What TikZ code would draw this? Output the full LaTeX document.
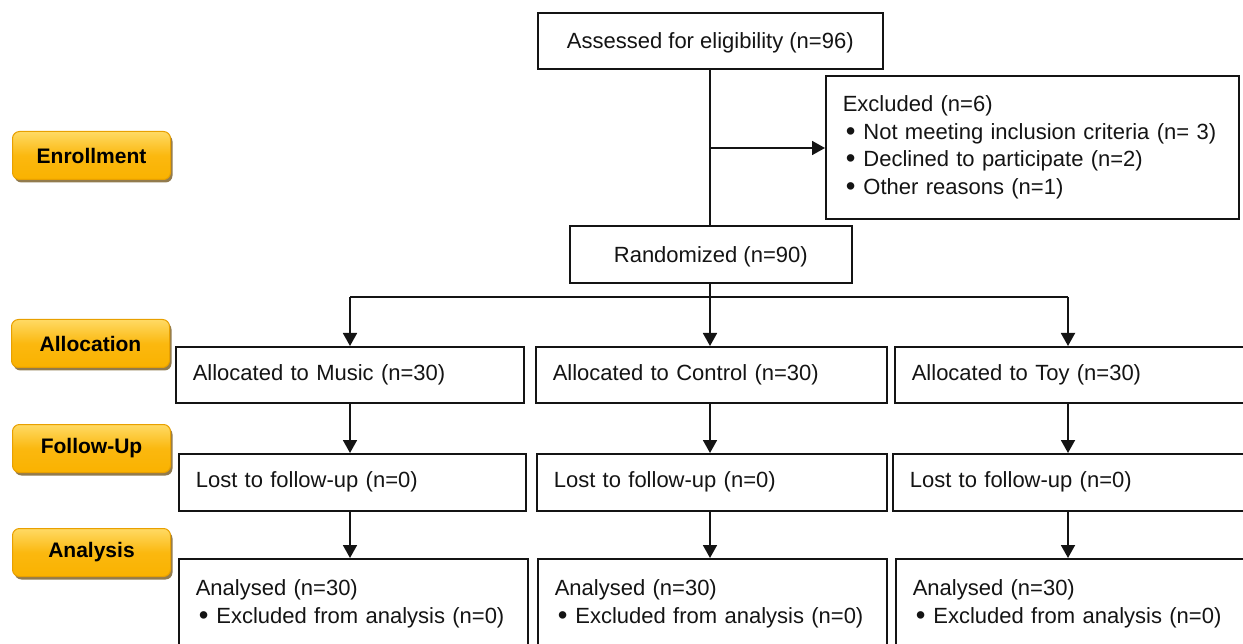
\documentclass[tikz,border=0pt]{standalone}
\usepackage{fontspec}
\setmainfont{Liberation Sans}
\usetikzlibrary{arrows.meta,shadows,calc}
\definecolor{goldtop}{RGB}{255,218,100}
\definecolor{goldbot}{RGB}{250,178,0}
\definecolor{goldline}{RGB}{232,160,0}
\definecolor{shadowc}{RGB}{110,80,20}
\definecolor{ink}{RGB}{20,20,20}
\newcommand{\bul}{\hspace*{3pt}\raisebox{-1.2pt}{\scalebox{1.25}{•}}\hspace{8pt}}
\begin{document}
\begin{tikzpicture}[x=1pt,y=-1pt,
  phase/.style={rectangle, rounded corners=7pt, draw=goldline, line width=1pt,
    top color=goldtop, bottom color=goldbot, middle color=goldbot!85!goldtop,
    minimum width=158pt, minimum height=48pt, anchor=north west,
    font=\fontsize{21}{25}\selectfont\bfseries, text=black,
    drop shadow={shadow xshift=2pt, shadow yshift=-3pt, fill=shadowc, opacity=0.75}},
  box/.style={rectangle, draw=ink, line width=1.6pt, anchor=north west,
    font=\fontsize{22}{27.5}\selectfont, text=ink, inner xsep=17pt, inner ysep=0pt},
  cbox/.style={box, align=center, text height=18pt, text depth=2pt},
  lbox/.style={box, align=left, text width=#1-34pt, minimum width=#1},
  conn/.style={draw=ink, line width=1.8pt},
  arr/.style={conn, -{Triangle[length=13pt,width=14pt]}}
]
\clip (0,0) rectangle (1243,644);
\fill[white] (0,0) rectangle (1243,644);

% phase labels
\node[phase] (enr) at (12,131) {Enrollment};
\node[phase] (alo) at (11,319) {Allocation};
\node[phase] (fol) at (12,424) {Follow-Up};
\node[phase] (ana) at (12,528) {Analysis};

% top boxes
\node[cbox, minimum width=345pt, minimum height=56pt] (assess) at (537,12) {Assessed for eligibility (n=96)};
\node[lbox=413pt, minimum height=143pt] (excl) at (825,75) {Excluded (n=6)\\
  \bul Not meeting inclusion criteria (n= 3)\\
  \bul Declined to participate (n=2)\\
  \bul Other reasons (n=1)};
\node[cbox, minimum width=282pt, minimum height=57pt] (rand) at (569,225) {Randomized (n=90)};

% allocation
\node[lbox=348pt, minimum height=56pt] (am) at (175,346) {Allocated to Music (n=30)};
\node[lbox=351pt, minimum height=56pt] (ac) at (535,346) {Allocated to Control (n=30)};
\node[lbox=360pt, minimum height=56pt] (at) at (894,346) {Allocated to Toy (n=30)};

% follow-up
\node[lbox=347pt, minimum height=57pt] (fm) at (178,453) {Lost to follow-up (n=0)};
\node[lbox=350pt, minimum height=57pt] (fc) at (536,453) {Lost to follow-up (n=0)};
\node[lbox=360pt, minimum height=57pt] (ft) at (892,453) {Lost to follow-up (n=0)};

% analysis
\node[lbox=349pt, minimum height=90pt] (nm) at (178,558) {Analysed (n=30)\\ \bul Excluded from analysis (n=0)};
\node[lbox=349pt, minimum height=90pt] (nc) at (537,558) {Analysed (n=30)\\ \bul Excluded from analysis (n=0)};
\node[lbox=360pt, minimum height=90pt] (nt) at (895,558) {Analysed (n=30)\\ \bul Excluded from analysis (n=0)};

% connectors
\coordinate (br) at (710,148);
\draw[conn] (br |- assess.south) -- (br |- rand.north);
\draw[arr] (br) -- (br -| excl.west);

\coordinate (sp) at (710,297);
\coordinate (d1) at (350,297);
\coordinate (d2) at (710,297);
\coordinate (d3) at (1068,297);
\draw[conn] (sp |- rand.south) -- (sp);
\draw[conn] (d1) -- (d3);
\draw[arr] (d1) -- (d1 |- am.north);
\draw[arr] (d2) -- (d2 |- ac.north);
\draw[arr] (d3) -- (d3 |- at.north);

\draw[arr] (d1 |- am.south) -- (d1 |- fm.north);
\draw[arr] (d2 |- ac.south) -- (d2 |- fc.north);
\draw[arr] (d3 |- at.south) -- (d3 |- ft.north);

\draw[arr] (d1 |- fm.south) -- (d1 |- nm.north);
\draw[arr] (d2 |- fc.south) -- (d2 |- nc.north);
\draw[arr] (d3 |- ft.south) -- (d3 |- nt.north);
\end{tikzpicture}
\end{document}
